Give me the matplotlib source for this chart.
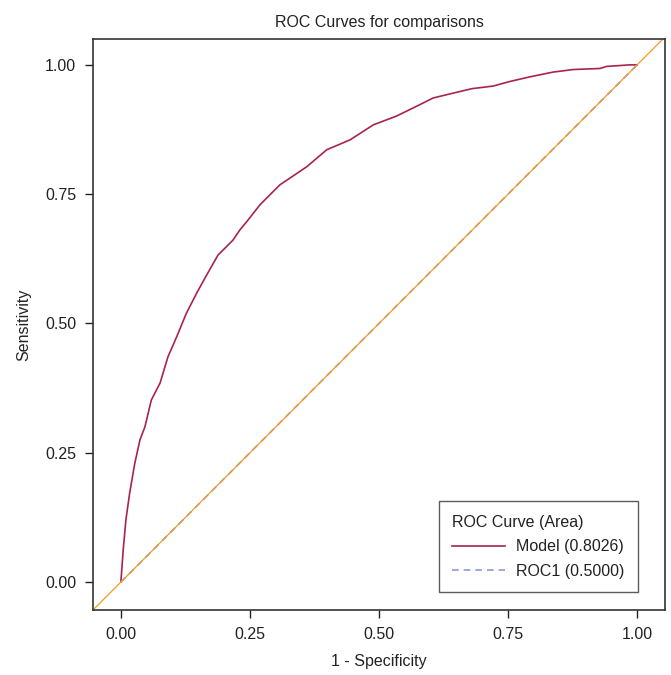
import matplotlib
matplotlib.use("Agg")
import matplotlib.pyplot as plt

plt.rcParams['font.family'] = ['Liberation Sans', 'DejaVu Sans']

# model ROC curve
fpr = [0.0, 0.0045, 0.0097, 0.017, 0.027, 0.037, 0.0465, 0.059, 0.076, 0.091,
       0.108, 0.127, 0.147, 0.163, 0.188, 0.217, 0.2306, 0.244, 0.262, 0.269,
       0.308, 0.36, 0.399, 0.444, 0.489, 0.534, 0.579, 0.605, 0.638, 0.68,
       0.721, 0.754, 0.793, 0.837, 0.876, 0.928, 0.941, 0.986, 1.0]
tpr = [0.0, 0.062, 0.12, 0.172, 0.23, 0.275, 0.30, 0.352, 0.385, 0.435,
       0.474, 0.52, 0.559, 0.588, 0.632, 0.661, 0.681, 0.697, 0.72, 0.729,
       0.768, 0.803, 0.836, 0.855, 0.884, 0.901, 0.923, 0.936, 0.944, 0.954,
       0.959, 0.968, 0.977, 0.986, 0.991, 0.993, 0.997, 1.0, 1.0]
ref_x = [0.0, 1.0]
ref_y = [0.0, 1.0]
ticks = [0.0, 0.25, 0.5, 0.75, 1.0]
tick_labels = ['0.00', '0.25', '0.50', '0.75', '1.00']

fig = plt.figure(figsize=(6.71, 6.75), dpi=100)
ax = fig.add_axes([0.1386, 0.0963, 0.8524, 0.8459])

ax.plot(fpr, tpr, color='#A8234F', lw=1.2, label='Model (0.8026)')
ax.plot(ref_x, ref_y, color='#8C9BD8', lw=1.2, ls=(0, (4, 3)), label='ROC1 (0.5000)')
ax.axline((0, 0), slope=1, color='#F59A23', lw=0.9)

ax.set_xlim(-0.054, 1.054)
ax.set_ylim(-0.054, 1.05)
ax.set_xticks(ticks)
ax.set_xticklabels(tick_labels)
ax.set_yticks(ticks)
ax.set_yticklabels(tick_labels)
ax.tick_params(direction='out', length=6, width=1, colors='#222222',
               labelsize=11.5, labelcolor='#222222', pad=6)
for s in ax.spines.values():
    s.set_color('#333333')
    s.set_linewidth(1.2)

ax.set_title('ROC Curves for comparisons', fontsize=11.5, color='#222222', pad=9)
ax.set_xlabel('1 - Specificity', fontsize=11.5, color='#222222', labelpad=9)
ax.set_ylabel('Sensitivity', fontsize=11.5, color='#222222', labelpad=10)

leg = ax.legend(title='ROC Curve (Area)', loc='lower right',
                bbox_to_anchor=(0.953, 0.031), fontsize=11.5, title_fontsize=11.5,
                alignment='left', frameon=True, fancybox=False,
                edgecolor='#333333', handlelength=3.3, handletextpad=0.7,
                borderpad=0.85, labelspacing=0.6, borderaxespad=0)
leg.get_frame().set_linewidth(1.0)
for t in leg.get_texts():
    t.set_color('#222222')
leg.get_title().set_color('#222222')

fig.savefig('out.png', dpi=100)
